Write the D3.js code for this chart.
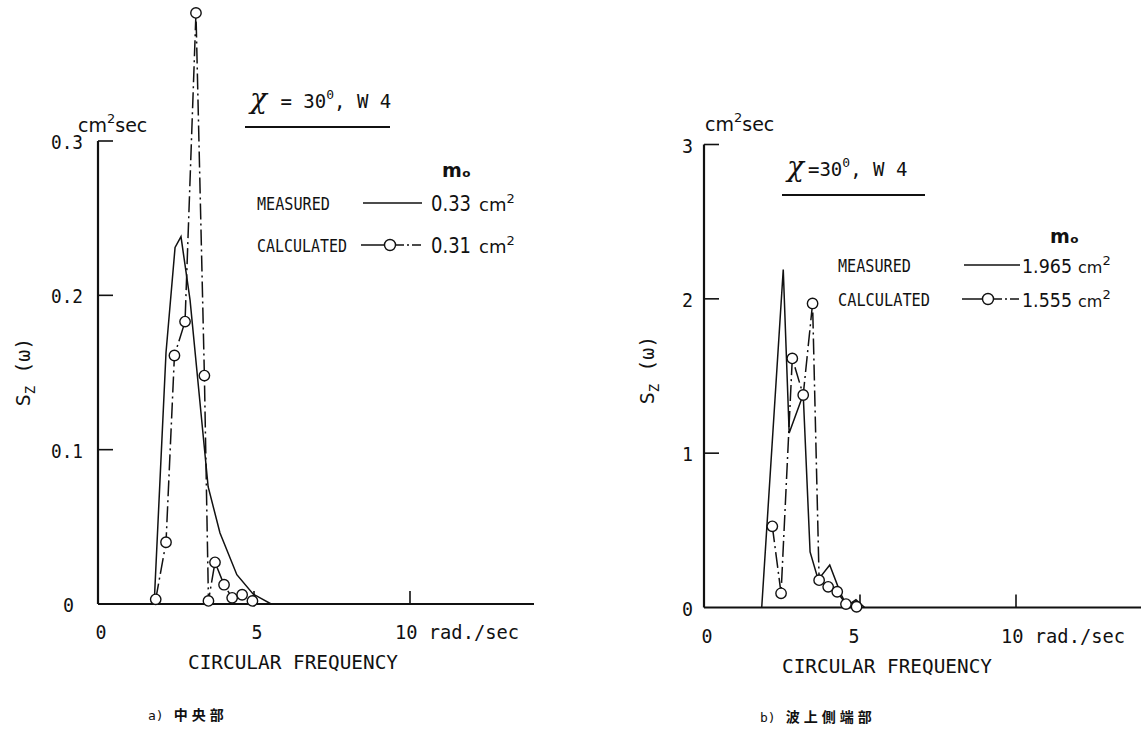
<!DOCTYPE html>
<html>
<head>
<meta charset="utf-8">
<script src="https://cdn.jsdelivr.net/npm/d3@7"></script>
<style>
  html, body { margin: 0; padding: 0; background: #fff; }
  svg { display: block; }
  text { fill: #111; }
</style>
</head>
<body>
<svg id="chart" width="1148" height="736"></svg>
<script>
// ---- data: heave spectra S_Z(ω), χ = 30°, W 4 ----
// a) centre section
const aMeasuredFreq = [1.80, 2.18, 2.47, 2.66, 2.95, 3.53, 3.91, 4.45, 4.97, 5.55];
const aMeasuredS    = [0, 0.163, 0.231, 0.238, 0.197, 0.076, 0.046, 0.019, 0.0065, 0];
const aCalcFreq     = [1.85, 2.18, 2.45, 2.79, 3.14, 3.41, 3.54, 3.75, 4.04, 4.30, 4.62, 4.95];
const aCalcS        = [0.003, 0.040, 0.161, 0.183, 0.383, 0.148, 0.002, 0.027, 0.0125, 0.004, 0.006, 0.002];
const aYTicks       = [0.1, 0.2, 0.3];
const aYLabels      = ["0", "0.1", "0.2", "0.3"];
const aM0           = ["0.33", "0.31"];

// b) weather-side end section
const bMeasuredFreq = [1.85, 2.54, 2.73, 3.18, 3.40, 3.66, 4.03, 4.38, 4.58, 4.87, 5.15];
const bMeasuredS    = [0, 2.19, 1.13, 1.38, 0.36, 0.18, 0.275, 0.09, 0.01, 0.05, 0];
const bCalcFreq     = [2.19, 2.47, 2.83, 3.18, 3.48, 3.69, 3.98, 4.27, 4.55, 4.89];
const bCalcS        = [0.526, 0.092, 1.614, 1.377, 1.97, 0.177, 0.134, 0.102, 0.022, 0.005];
const bYTicks       = [1, 2, 3];
const bYLabels      = ["0", "1", "2", "3"];
const bM0           = ["1.965", "1.555"];

const xTicks = [5, 10];
const xLabels = ["0", "5", "10 rad./sec"];

const svg = d3.select("#chart");
const MONO = "'DejaVu Sans Mono', monospace";
const SANS = "'DejaVu Sans', sans-serif";
const INK = "#111";

function txt(g, x, y, s, o = {}) {
  const t = g.append("text")
    .attr("x", x).attr("y", y)
    .attr("font-family", o.family || MONO)
    .attr("font-size", o.size || 17)
    .attr("text-anchor", o.anchor || "start")
    .text(s);
  if (o.len) t.attr("textLength", o.len).attr("lengthAdjust", "spacingAndGlyphs");
  if (o.weight) t.attr("font-weight", o.weight);
  return t;
}

function panel(cfg) {
  const g = svg.append("g");
  const x = d3.scaleLinear().domain([0, 10]).range([cfg.x0, cfg.x0 + 312]);
  const y = d3.scaleLinear().domain([0, cfg.yMax]).range([cfg.y0, cfg.y0 - 463]);

  // axes
  g.append("line").attr("x1", x(0)).attr("x2", cfg.xEnd).attr("y1", y(0)).attr("y2", y(0))
    .attr("stroke", INK).attr("stroke-width", 2.2);
  g.append("line").attr("x1", x(0)).attr("x2", x(0)).attr("y1", y(0)).attr("y2", y(cfg.yMax))
    .attr("stroke", INK).attr("stroke-width", 2.2);
  g.selectAll(".yt").data(cfg.yTicks).join("line")
    .attr("x1", x(0)).attr("x2", x(0) + 15)
    .attr("y1", d => y(d)).attr("y2", d => y(d))
    .attr("stroke", INK).attr("stroke-width", 1.6);
  g.selectAll(".xt").data(xTicks).join("line")
    .attr("x1", d => x(d)).attr("x2", d => x(d))
    .attr("y1", y(0)).attr("y2", y(0) - 13)
    .attr("stroke", INK).attr("stroke-width", 1.6);

  // y tick labels
  const yVals = [0].concat(cfg.yTicks);
  yVals.forEach((v, i) => {
    const lx = (i === 0) ? cfg.zeroLabelX : cfg.yLabelX;
    const s = cfg.yLabels[i];
    txt(g, lx, y(v) + 8, s, { anchor: "end", size: 20, len: s.length > 1 ? 32 : 11 });
  });
  // x tick labels
  txt(g, x(0) + 3, cfg.y0 + 35, xLabels[0], { anchor: "middle", size: 20, len: 11 });
  txt(g, x(5) + cfg.fiveDx, cfg.y0 + 35, xLabels[1], { anchor: "middle", size: 20, len: 11 });
  txt(g, x(10) - 15, cfg.y0 + 35, xLabels[2], { size: 20, len: 124 });
  txt(g, cfg.xTitleX, cfg.y0 + 65, "CIRCULAR  FREQUENCY", { size: 20, len: 210 });

  // unit label
  const u = g.append("text").attr("x", cfg.unitX).attr("y", cfg.unitY)
    .attr("font-family", SANS).attr("font-size", 19);
  u.append("tspan").text("cm");
  u.append("tspan").attr("dy", -9).attr("font-size", 13).text("2");
  u.append("tspan").attr("dy", 9).text("sec");

  // y title S_Z (ω)
  const yt = g.append("text")
    .attr("transform", `translate(${cfg.yTitleX},${cfg.yTitleY}) rotate(-90)`)
    .attr("font-family", MONO).attr("font-size", 20).attr("text-anchor", "middle");
  yt.append("tspan").text("S");
  yt.append("tspan").attr("dy", 5).attr("font-size", 14).text("Z");
  yt.append("tspan").attr("dy", -5).text(" (ω)");

  // condition title with underline
  const tt = g.append("text").attr("x", cfg.titleX).attr("y", cfg.titleY)
    .attr("font-family", MONO).attr("font-size", 19);
  tt.append("tspan").attr("font-family", "'DejaVu Serif', serif").attr("font-style", "italic")
    .attr("font-size", 28).text("χ");
  tt.append("tspan").attr("dx", cfg.eqDx).text(cfg.titleEq);
  tt.append("tspan").attr("dy", -9).attr("font-size", 13).text("0");
  tt.append("tspan").attr("dy", 9).text(cfg.titleTail);
  g.append("line").attr("x1", cfg.titleX - 5).attr("x2", cfg.titleX + cfg.ulLen)
    .attr("y1", cfg.titleY + 19).attr("y2", cfg.titleY + 19)
    .attr("stroke", INK).attr("stroke-width", 1.8);

  // legend
  const L = cfg.leg;
  txt(g, L.m0x, L.m0y, "mₒ", { family: SANS, size: 19, weight: 600 });
  txt(g, L.lx, L.y1 + 7, "MEASURED", { size: 17, len: 73 });
  txt(g, L.lx, L.y2 + 7, "CALCULATED", { size: 17, len: L.calcLen });
  g.append("line").attr("x1", L.ax).attr("x2", L.bx).attr("y1", L.y1).attr("y2", L.y1)
    .attr("stroke", INK).attr("stroke-width", 1.5);
  g.append("line").attr("x1", L.ax - 2).attr("x2", L.cx - 5).attr("y1", L.y2).attr("y2", L.y2)
    .attr("stroke", INK).attr("stroke-width", 1.5);
  g.append("line").attr("x1", L.cx + 5).attr("x2", L.bx + 2).attr("y1", L.y2).attr("y2", L.y2)
    .attr("stroke", INK).attr("stroke-width", 1.5).attr("stroke-dasharray", "9,3,2,3");
  g.append("circle").attr("cx", L.cx).attr("cy", L.y2).attr("r", 5.5)
    .attr("fill", "#fff").attr("stroke", INK).attr("stroke-width", 1.4);
  [L.y1, L.y2].forEach((yy, i) => {
    const t = g.append("text").attr("x", L.vx).attr("y", yy + 8)
      .attr("font-family", SANS).attr("font-size", L.vSize);
    t.append("tspan").attr("textLength", L.vLen).attr("lengthAdjust", "spacingAndGlyphs").text(cfg.m0[i]);
    t.append("tspan").attr("dx", L.gap).attr("font-size", L.vSize - 3).text("cm");
    t.append("tspan").attr("dy", -8).attr("font-size", 13).text("2");
  });

  // data curves
  const line = d3.line().x(d => x(d[0])).y(d => y(d[1]));
  const meas = d3.zip(cfg.mF, cfg.mS);
  const calc = d3.zip(cfg.cF, cfg.cS);
  g.append("path").attr("d", line(calc)).attr("fill", "none")
    .attr("stroke", INK).attr("stroke-width", 1.5).attr("stroke-dasharray", "16,4,2,4");
  g.append("path").attr("d", line(meas)).attr("fill", "none")
    .attr("stroke", INK).attr("stroke-width", 1.5);
  g.selectAll(".pt").data(calc).join("circle")
    .attr("cx", d => x(d[0])).attr("cy", d => y(d[1])).attr("r", 5.2)
    .attr("fill", "#fff").attr("stroke", INK).attr("stroke-width", 1.4);

  // caption
  const c = g.append("text").attr("x", cfg.capX).attr("y", cfg.capY)
    .attr("font-family", "'Noto Sans CJK JP', sans-serif").attr("font-size", 14).attr("font-weight", 700);
  c.append("tspan").attr("font-family", MONO).attr("font-weight", 400).attr("font-size", 13).text(cfg.capA);
  c.append("tspan").attr("dx", 10).attr("letter-spacing", 4).text(cfg.capB);
}

panel({
  x0: 98, y0: 604, xEnd: 534, yMax: 0.3, yTicks: aYTicks, yLabels: aYLabels,
  yLabelX: 83, zeroLabelX: 74, fiveDx: 3,
  xTitleX: 188, unitX: 78, unitY: 132, yTitleX: 30, yTitleY: 372,
  titleX: 250, titleY: 108, titleEq: " = 30", titleTail: ", W 4", eqDx: 2, ulLen: 140,
  m0: aM0,
  leg: { m0x: 442, m0y: 177, lx: 257, y1: 203, y2: 245, calcLen: 90,
         ax: 363, bx: 422, cx: 390, vx: 431, vLen: 40, gap: 8, vSize: 21 },
  mF: aMeasuredFreq, mS: aMeasuredS, cF: aCalcFreq, cS: aCalcS,
  capX: 148, capY: 720, capA: "a)", capB: "中央部"
});

panel({
  x0: 704, y0: 607.5, xEnd: 1141, yMax: 3, yTicks: bYTicks, yLabels: bYLabels,
  yLabelX: 693, zeroLabelX: 693, fiveDx: -6,
  xTitleX: 782, unitX: 705, unitY: 131, yTitleX: 654, yTitleY: 370,
  titleX: 787, titleY: 176, titleEq: "=30", titleTail: ",  W 4", eqDx: 4, ulLen: 138,
  m0: bM0,
  leg: { m0x: 1050, m0y: 243, lx: 838, y1: 265, y2: 299, calcLen: 92,
         ax: 964, bx: 1020, cx: 988, vx: 1022, vLen: 50, gap: 6, vSize: 19 },
  mF: bMeasuredFreq, mS: bMeasuredS, cF: bCalcFreq, cS: bCalcS,
  capX: 760, capY: 722, capA: "b)", capB: "波上側端部"
});
</script>
</body>
</html>
